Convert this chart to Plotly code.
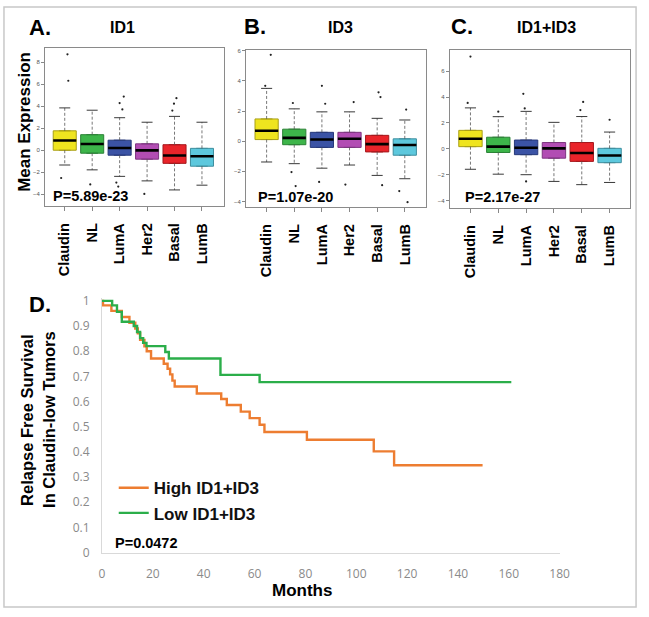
import plotly.graph_objects as go

W, H = 649, 617

def fx(px):
    return px / W

def fy(py):
    return 1 - py / H

# ---------------- data: boxplots ----------------
categories = ["Claudin", "NL", "LumA", "Her2", "Basal", "LumB"]
box_colors = ["#EFE41F", "#3DB54A", "#3B53A5", "#B24DB3", "#E9242A", "#5DC8DD"]
box_edges = ["#A89F16", "#2B8236", "#27397A", "#7E3580", "#A5181D", "#3F8E9E"]

# Panel A: ID1
id1_q1 = [0.00, -0.27, -0.45, -0.81, -1.19, -1.45]
id1_median = [0.88, 0.56, 0.20, -0.01, -0.48, -0.54]
id1_q3 = [1.76, 1.41, 0.91, 0.58, 0.50, 0.17]
id1_low = [-1.34, -1.78, -2.37, -2.78, -3.60, -3.17]
id1_high = [3.84, 3.63, 2.95, 2.54, 3.07, 2.54]
id1_out_cat = [0, 0, 0, 1, 2, 2, 2, 2, 2, 3, 4, 4, 4]
id1_out_dx = [0.10, 0.13, -0.13, -0.07, 0.15, 0.00, 0.10, -0.12, -0.05, -0.10, 0.07, -0.02, -0.08]
id1_out_y = [8.7, 6.3, -2.52, -3.1, 4.87, 4.28, 3.7, -2.93, -3.3, -3.96, 4.72, 4.22, 3.6]

# Panel B: ID3
id3_q1 = [0.11, -0.23, -0.41, -0.41, -0.71, -0.93]
id3_median = [0.70, 0.22, 0.11, 0.16, -0.19, -0.25]
id3_q3 = [1.48, 0.80, 0.59, 0.59, 0.39, 0.16]
id3_low = [-1.38, -1.49, -1.79, -1.58, -2.27, -2.49]
id3_high = [3.51, 2.15, 1.95, 1.95, 1.52, 1.41]
id3_out_cat = [0, 0, 1, 1, 1, 2, 2, 2, 3, 3, 4, 4, 4, 5, 5, 5]
id3_out_dx = [0.15, -0.05, -0.05, -0.10, 0.05, 0.00, 0.12, -0.10, 0.15, -0.15, 0.05, 0.12, 0.18, 0.05, -0.20, 0.10]
id3_out_y = [5.74, 3.68, 2.54, -2.05, -2.98, 3.68, 2.49, -2.70, 2.60, -2.88, 3.25, 2.93, -2.92, 2.10, -3.31, -4.05]

# Panel C: ID1+ID3
idc_q1 = [0.17, -0.28, -0.45, -0.72, -0.97, -1.07]
idc_median = [0.78, 0.17, 0.08, 0.04, -0.32, -0.51]
idc_q3 = [1.43, 0.90, 0.68, 0.49, 0.49, 0.04]
idc_low = [-1.58, -1.96, -2.00, -2.52, -2.77, -2.60]
idc_high = [3.17, 2.49, 2.90, 2.05, 2.50, 1.30]
idc_out_cat = [0, 0, 1, 2, 2, 2, 4, 4, 5]
idc_out_dx = [0.00, -0.10, 0.00, -0.10, -0.05, 0.00, 0.05, -0.05, 0.00]
idc_out_y = [7.14, 3.55, 2.88, 4.26, 3.13, -2.52, 3.63, 3.00, 2.25]

p_values = ["P=5.89e-23", "P=1.07e-20", "P=2.17e-27"]

# ---------------- data: Kaplan-Meier ----------------
high_months = [0, 0.4, 3.7, 7.8, 10.8, 13.1, 14.1, 15.0, 16.7, 17.6, 19.3, 24.3, 25.8,
               26.8, 27.7, 28.6, 37.3, 46.9, 49.1, 54.6, 58.1, 62.0, 63.9, 80.6,
               106.9, 114.9, 149.7]
high_surv = [1.0, 0.982, 0.96, 0.936, 0.913, 0.89, 0.871, 0.845, 0.819, 0.80, 0.771, 0.75, 0.73,
             0.708, 0.683, 0.66, 0.632, 0.61, 0.586, 0.56, 0.534, 0.508, 0.479, 0.448,
             0.402, 0.347, 0.347]
low_months = [0, 4.0, 5.9, 7.8, 12.5, 13.8, 15.0, 16.2, 17.5, 24.9, 26.3, 46.6, 62.0, 161.0]
low_surv = [1.0, 0.982, 0.956, 0.917, 0.90, 0.876, 0.852, 0.833, 0.82, 0.797, 0.771, 0.706, 0.677, 0.677]

km_xticks = list(range(0, 181, 20))
km_yticks = [0, 0.1, 0.2, 0.3, 0.4, 0.5, 0.6, 0.7, 0.8, 0.9, 1.0]
km_yticktext = ["0", "0.1", "0.2", "0.3", "0.4", "0.5", "0.6", "0.7", "0.8", "0.9", "1"]

fig = go.Figure()

panels = [
    ("x", "y", id1_q1, id1_median, id1_q3, id1_low, id1_high, id1_out_cat, id1_out_dx, id1_out_y),
    ("x2", "y2", id3_q1, id3_median, id3_q3, id3_low, id3_high, id3_out_cat, id3_out_dx, id3_out_y),
    ("x3", "y3", idc_q1, idc_median, idc_q3, idc_low, idc_high, idc_out_cat, idc_out_dx, idc_out_y),
]

for xa, ya, q1, med, q3, lo, hi, oc, odx, oy in panels:
    n = len(categories)
    wx, wy = [], []
    for i in range(n):
        wx += [i, i, None, i, i, None]
        wy += [q3[i], hi[i], None, q1[i], lo[i], None]
    fig.add_trace(go.Scatter(x=wx, y=wy, mode="lines", xaxis=xa, yaxis=ya,
                             line=dict(color="#555555", width=0.8, dash="3px,2px"),
                             showlegend=False, hoverinfo="skip"))
    cx, cy = [], []
    for i in range(n):
        cx += [i - 0.2, i + 0.2, None, i - 0.2, i + 0.2, None]
        cy += [hi[i], hi[i], None, lo[i], lo[i], None]
    fig.add_trace(go.Scatter(x=cx, y=cy, mode="lines", xaxis=xa, yaxis=ya,
                             line=dict(color="#222222", width=0.9),
                             showlegend=False, hoverinfo="skip"))
    for i in range(n):
        fig.add_trace(go.Box(x=[i], q1=[q1[i]], median=[med[i]], q3=[q3[i]],
                             lowerfence=[q1[i]], upperfence=[q3[i]],
                             width=0.84, fillcolor=box_colors[i],
                             line=dict(color=box_edges[i], width=1),
                             boxpoints=False, xaxis=xa, yaxis=ya,
                             showlegend=False, hoverinfo="skip"))
    mx, my = [], []
    for i in range(n):
        mx += [i - 0.42, i + 0.42, None]
        my += [med[i], med[i], None]
    fig.add_trace(go.Scatter(x=mx, y=my, mode="lines", xaxis=xa, yaxis=ya,
                             line=dict(color="#000000", width=2.6),
                             showlegend=False, hoverinfo="skip"))
    fig.add_trace(go.Scatter(x=[c + d for c, d in zip(oc, odx)], y=oy, mode="markers",
                             xaxis=xa, yaxis=ya,
                             marker=dict(color="#222222", size=2.2),
                             showlegend=False, hoverinfo="skip"))

# KM curves
fig.add_trace(go.Scatter(x=high_months, y=high_surv, mode="lines", line_shape="hv",
                         line=dict(color="#ED7D31", width=2.4), name="High ID1+ID3",
                         xaxis="x4", yaxis="y4"))
fig.add_trace(go.Scatter(x=low_months, y=low_surv, mode="lines", line_shape="hv",
                         line=dict(color="#2BAE4A", width=2.4), name="Low ID1+ID3",
                         xaxis="x4", yaxis="y4"))

box_xaxis = dict(tickmode="array", tickvals=list(range(6)),
                 ticktext=["<b>%s</b>" % c for c in categories], tickangle=-90,
                 tickfont=dict(family="Liberation Sans, Arial", size=14.5, color="#000000"),
                 ticks="outside", ticklen=4, tickcolor="#888888", ticklabelstandoff=6,
                 showline=True, mirror=True, linecolor="#8a8a8a", linewidth=1,
                 showgrid=False, zeroline=False, fixedrange=True)
box_yaxis = dict(tickfont=dict(family="Liberation Sans, Arial", size=6, color="#555555"),
                 ticks="outside", ticklen=3, tickcolor="#888888", dtick=2,
                 showline=True, mirror=True, linecolor="#8a8a8a", linewidth=1,
                 showgrid=False, zeroline=False)

layout = dict(
    width=W, height=H, margin=dict(l=0, r=0, t=0, b=0),
    paper_bgcolor="white", plot_bgcolor="white",
    xaxis=dict(box_xaxis, domain=[fx(43), fx(226)], range=[-0.714, 5.82], anchor="y"),
    yaxis=dict(box_yaxis, domain=[fy(205), fy(43)], range=[-5.09, 9.27], anchor="x"),
    xaxis2=dict(box_xaxis, domain=[fx(248), fx(432)], range=[-0.745, 5.78], anchor="y2"),
    yaxis2=dict(box_yaxis, domain=[fy(206), fy(45)], range=[-4.39, 6.06], anchor="x2"),
    xaxis3=dict(box_xaxis, domain=[fx(456), fx(640)], range=[-0.74, 5.74], anchor="y3"),
    yaxis3=dict(box_yaxis, domain=[fy(207), fy(45)], range=[-4.60, 7.65], anchor="x3"),
    xaxis4=dict(domain=[fx(101), fx(568)], range=[0, 180], anchor="y4",
                tickmode="array", tickvals=km_xticks, ticklabelstandoff=10,
                tickfont=dict(family="Open Sans", size=12, color="#8a8a8a"),
                showline=True, linecolor="#d9d9d9", linewidth=1, ticks="",
                showgrid=False, zeroline=False),
    yaxis4=dict(domain=[fy(559.3), fy(299.1)], range=[0, 1.01], anchor="x4",
                tickmode="array", tickvals=km_yticks, ticktext=km_yticktext,
                ticklabelstandoff=9,
                tickfont=dict(family="Open Sans", size=12, color="#8a8a8a"),
                showline=True, linecolor="#d9d9d9", linewidth=1, ticks="",
                showgrid=False, zeroline=False),
    showlegend=True,
    legend=dict(x=fx(113), y=fy(475), xanchor="left", yanchor="top",
                bgcolor="rgba(0,0,0,0)", itemwidth=30, tracegroupgap=0,
                font=dict(family="Liberation Sans, Arial", size=17, color="#111111", weight="bold")),
    shapes=[dict(type="rect", xref="paper", yref="paper",
                 x0=fx(1), x1=fx(646), y0=fy(615), y1=fy(1),
                 line=dict(color="#c8c8c8", width=1.5))],
)
fig.update_layout(**layout)

ann = []
def add_text(text, px, py, size, xanchor="center", yanchor="middle", angle=0, bold=True, color="#000000"):
    ann.append(dict(text=("<b>%s</b>" % text) if bold else text, x=fx(px), y=fy(py),
                    xref="paper", yref="paper", xanchor=xanchor, yanchor=yanchor,
                    showarrow=False, textangle=angle,
                    font=dict(family="Liberation Sans, Arial", size=size, color=color)))

add_text("A.", 24, 22, 22, xanchor="left")
add_text("ID1", 122, 22, 16)
add_text("B.", 244, 21, 22, xanchor="left")
add_text("ID3", 344, 22, 16)
add_text("C.", 455, 21, 22, xanchor="left")
add_text("ID1+ID3", 555, 22, 16)
add_text("D.", 24, 305, 22, xanchor="left")
add_text("Mean Expression", 22, 119, 17, angle=-90)
add_text(p_values[0], 49, 194, 14.5, xanchor="left")
add_text(p_values[1], 258, 195, 14.5, xanchor="left")
add_text(p_values[2], 469, 195, 14.5, xanchor="left")
add_text("Relapse Free Survival", 25, 423, 16.5, angle=-90)
add_text("In Claudin-low Tumors", 47.5, 423, 16.5, angle=-90)
add_text("Months", 305, 598, 17)
add_text("P=0.0472", 112, 549, 14.5, xanchor="left")
fig.update_layout(annotations=ann)

fig.write_html("out.html", config={"displayModeBar": False},
               post_script="document.body.style.margin='0px';document.body.style.overflow='hidden';")
